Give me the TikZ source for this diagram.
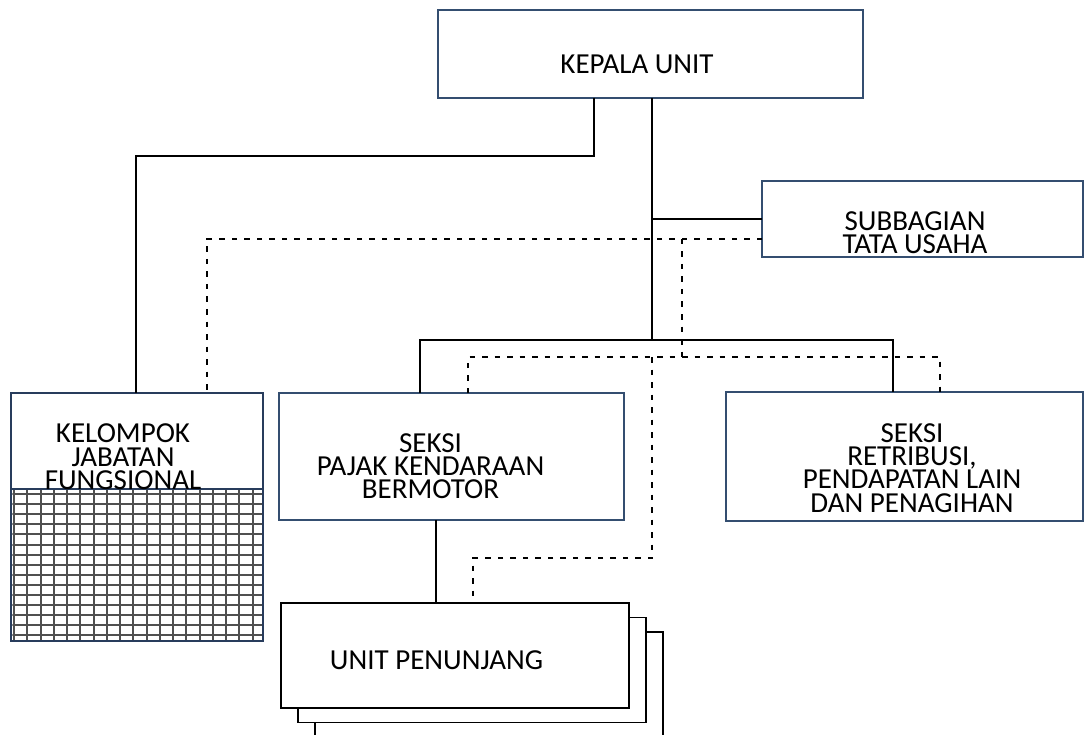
\documentclass[tikz,border=0pt]{standalone}
\usepackage{fontspec}
\setmainfont{Carlito}
\usepackage{xcolor}
\usepackage{tikz}
\definecolor{boxline}{RGB}{52,78,112}
\definecolor{kjline}{RGB}{40,60,92}
\definecolor{gridline}{RGB}{80,80,80}

\begin{document}
\begin{tikzpicture}[x=1pt,y=-1pt,
  box/.style={draw=boxline,line width=1.3pt,fill=white,inner sep=0pt,outer sep=0pt},
  unitbox/.style={draw=black,line width=1.5pt,fill=white,inner sep=0pt,outer sep=0pt,minimum width=348pt,minimum height=105pt},
  txt/.style={align=center,font=\fontsize{29}{23.3}\selectfont,inner sep=0pt},
  link/.style={line width=1.5pt},
  dotlink/.style={line width=1.5pt,dash pattern=on 5.5pt off 7pt}]
\useasboundingbox (0,0) rectangle (1084,735);

\node[box,minimum width=425pt,minimum height=88pt]   (KU) at (650.5,54)    {};
  \node[txt]   (KUT) at (637,64.6)   {KEPALA UNIT};
  \node[box,minimum width=321pt,minimum height=76pt]   (SB) at (922.5,219)   {};
  \node[txt]   (SBT) at (915,232.4)  {SUBBAGIAN\\TATA USAHA};
  \node[box,draw=kjline,line width=2.5pt,minimum width=252pt,minimum height=248pt]   (KJ) at (137,517)   {};
  \begin{scope}
    \clip (12.25,489) rectangle (261.75,639.75);
    \foreach \i in {0,...,18}
      \draw[gridline,line width=2pt] (14+13.25*\i,489) -- (14+13.25*\i,641);
    \foreach \j in {0,...,14}
      \draw[gridline,line width=2pt] (11,494+10.1*\j) -- (263,494+10.1*\j);
  \end{scope}
  \draw[kjline,line width=2.5pt] (KJ.north west) rectangle (KJ.south east);
  \draw[kjline,line width=2.5pt] (KJ.west |- 0,489) -- (KJ.east |- 0,489);
  \node[txt]   (KJT) at (123,456.8)  {KELOMPOK\\JABATAN\\FUNGSIONAL};
  \node[box,minimum width=345pt,minimum height=127pt]   (SP) at (451.5,456.5)   {};
  \node[txt]   (SPT) at (430.5,466)  {SEKSI\\PAJAK KENDARAAN\\BERMOTOR};
  \node[box,minimum width=357pt,minimum height=129pt]   (SR) at (904.5,456.5)   {};
  \node[txt]   (SRT) at (912,468)    {SEKSI\\RETRIBUSI,\\PENDAPATAN LAIN\\DAN PENAGIHAN};
  \node[unitbox]   (UP3) at (489,684.5)   {};
  \node[unitbox]   (UP2) at (472,670)     {};
  \node[unitbox]   (UP1) at (455,655.5)   {};
  \node[txt]   (UPT) at (436.5,660)  {UNIT PENUNJANG};

  \coordinate (KA) at (594,156);
  \coordinate (KB) at (136,156);
  \coordinate (TR) at (652,340);
  \coordinate (BL) at (420,340);
  \coordinate (BR) at (893,340);
  \coordinate (PU) at (436,560);
  \coordinate (DL) at (207,239);
  \coordinate (DM) at (682,239);
  \coordinate (EL) at (468,357);
  \coordinate (ER) at (940,357);
  \coordinate (FA) at (652,558);
  \coordinate (FB) at (473,558);

  \draw[link] (KU.south -| KA) -- (KA) -- (KB) -- (KJ.north -| KB);
  \draw[link] (KU.south -| TR) -- (TR);
  \draw[link] (SB.west -| TR) -- (SB.west);
  \draw[link] (SP.north -| BL) -- (BL) -- (BR) -- (SR.north -| BR);
  \draw[link] (SP.south -| PU) -- (UP1.north -| PU);

  \draw[dotlink] (SB.west |- DL) -- (DL) -- (KJ.north -| DL);
  \draw[dotlink] (DM) -- (DM |- EL);
  \draw[dotlink] (SP.north -| EL) -- (EL) -- (ER) -- (SR.north -| ER);
  \draw[dotlink] (FA |- EL) -- (FA) -- (FB) -- (UP1.north -| FB);
    \end{tikzpicture}
\end{document}
